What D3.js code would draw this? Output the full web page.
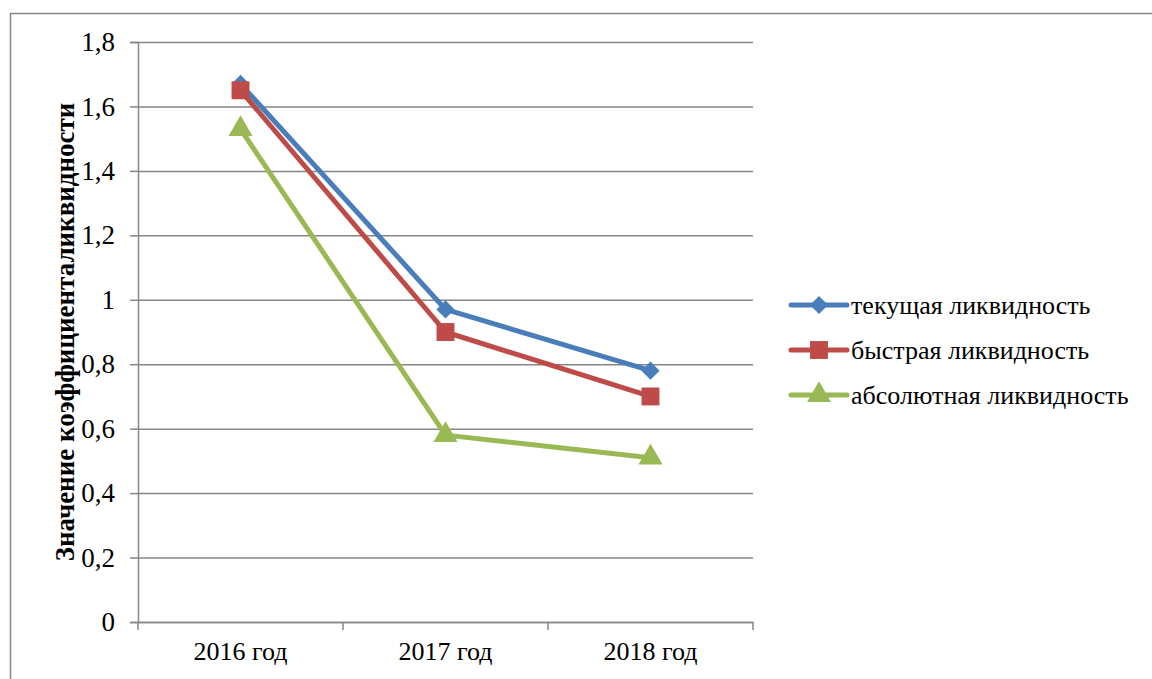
<!DOCTYPE html>
<html>
<head>
<meta charset="utf-8">
<script src="https://cdn.jsdelivr.net/npm/d3@7"></script>
<style>
  body { margin: 0; background: #fff; }
  svg { display: block; font-family: "Liberation Serif", "Times New Roman", serif; }
</style>
</head>
<body>
<svg id="chart"></svg>
<script>
// data
const years = ["2016 год", "2017 год", "2018 год"];
const current = [1.67, 0.97, 0.78];
const quick = [1.65, 0.90, 0.70];
const absolute = [1.53, 0.58, 0.51];
const seriesNames = ["текущая ликвидность", "быстрая ликвидность", "абсолютная ликвидность"];
const yTicks = [0, 0.2, 0.4, 0.6, 0.8, 1, 1.2, 1.4, 1.6, 1.8];

const width = 1152, height = 679;
const marginLeft = 138, marginRight = 400, marginTop = 42, marginBottom = 57;

const colors = ["#4A7EBB", "#BE4B48", "#98B954"];
const shapes = [d3.symbolDiamond2, d3.symbolSquare, d3.symbolTriangle];
const sizes = [210, 320, 250];
const grid = "#868686";

const svg = d3.select("#chart")
    .attr("width", width)
    .attr("height", height);

// outer frame
svg.append("rect")
    .attr("x", 10.5).attr("y", 13.5)
    .attr("width", width + 10).attr("height", height + 10)
    .attr("fill", "#fff")
    .attr("stroke", grid)
    .attr("stroke-width", 1.5);

const x = d3.scaleBand()
    .domain(years)
    .range([marginLeft, width - marginRight + 1]);

const y = d3.scaleLinear()
    .domain([0, 1.8])
    .range([height - marginBottom, marginTop]);

const fmt = d => d === 0 || d === 1 ? String(d) : d3.format(".1f")(d).replace(".", ",");

// y axis + gridlines
svg.append("g")
    .attr("transform", `translate(${marginLeft},0)`)
    .call(d3.axisLeft(y).tickValues(yTicks).tickFormat(fmt).tickSize(8).tickPadding(15))
    .call(g => g.select(".domain").attr("stroke", grid).attr("stroke-width", 1.5))
    .call(g => g.selectAll(".tick line").attr("stroke", grid).attr("stroke-width", 1.5))
    .call(g => g.selectAll(".tick line").clone()
        .attr("x1", 0)
        .attr("x2", x.range()[1] - marginLeft)
        .attr("stroke", grid)
        .attr("stroke-width", 1.5))
    .call(g => g.selectAll(".tick text")
        .attr("fill", "#000")
        .style("font-size", "27px")
        .style("font-family", "Liberation Serif, serif"));

// x axis
svg.append("g")
    .attr("transform", `translate(0,${y(0)})`)
    .call(d3.axisBottom(x).tickSize(0).tickPadding(20))
    .call(g => g.select(".domain").attr("stroke", grid).attr("stroke-width", 1.5))
    .call(g => g.selectAll(".tick text")
        .attr("fill", "#000")
        .style("font-size", "26px")
        .style("font-family", "Liberation Serif, serif"));

// x tick marks at band edges
const edges = years.map(d => x(d)).concat([x.range()[1]]);
svg.append("g")
    .selectAll("line")
    .data(edges)
    .join("line")
    .attr("x1", d => d).attr("x2", d => d)
    .attr("y1", y(0)).attr("y2", y(0) + 8)
    .attr("stroke", grid)
    .attr("stroke-width", 1.5);

// y axis title
svg.append("text")
    .attr("transform", `translate(74,${(y(0) + y(1.8)) / 2}) rotate(-90)`)
    .attr("text-anchor", "middle")
    .style("font-size", "27px")
    .style("font-weight", "bold")
    .text("Значение коэффициенталиквидности");

const allSeries = [current, quick, absolute];
const line = d3.line()
    .x((d, i) => x(years[i]) + x.bandwidth() / 2)
    .y(d => y(d));

allSeries.forEach((vals, s) => {
    svg.append("path")
        .datum(vals)
        .attr("fill", "none")
        .attr("stroke", colors[s])
        .attr("stroke-width", 5)
        .attr("stroke-linejoin", "round")
        .attr("d", line);

    svg.append("g")
        .selectAll("path")
        .data(vals)
        .join("path")
        .attr("transform", (d, i) => `translate(${x(years[i]) + x.bandwidth() / 2},${y(d)})`)
        .attr("d", d3.symbol().type(shapes[s]).size(sizes[s]))
        .attr("fill", colors[s]);
});

// legend
const legend = svg.append("g")
    .attr("transform", "translate(791,305)");

const item = legend.selectAll("g")
    .data(seriesNames)
    .join("g")
    .attr("transform", (d, i) => `translate(0,${i * 45})`);

item.append("line")
    .attr("x1", 0).attr("x2", 56)
    .attr("stroke", (d, i) => colors[i])
    .attr("stroke-width", 5)
    .attr("stroke-linecap", "round");

item.append("path")
    .attr("transform", "translate(28,0)")
    .attr("d", (d, i) => d3.symbol().type(shapes[i]).size(sizes[i])())
    .attr("fill", (d, i) => colors[i]);

item.append("text")
    .attr("x", 60)
    .attr("dy", "0.35em")
    .style("font-size", "26px")
    .text(d => d);
</script>
</body>
</html>
